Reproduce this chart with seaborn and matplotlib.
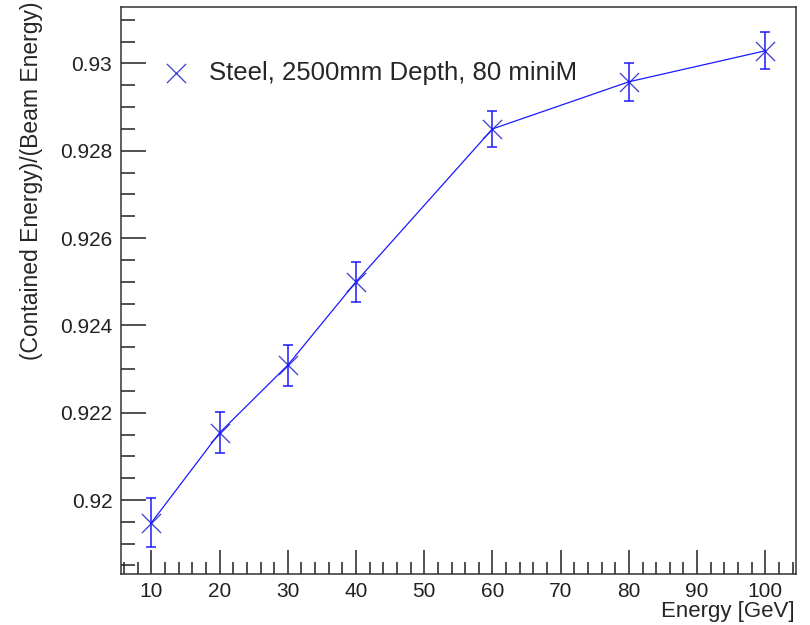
import matplotlib
matplotlib.use("Agg")
import matplotlib.pyplot as plt
from matplotlib.ticker import MultipleLocator
import seaborn as sns
import pandas as pd

# the data
energy = [10, 20, 30, 40, 60, 80, 100]
ratio = [0.91948, 0.92154, 0.92309, 0.92500, 0.92850, 0.92958, 0.93029]
ratio_err = [0.00056, 0.00047, 0.00047, 0.00046, 0.00041, 0.00044, 0.00042]
x_ticks = [10, 20, 30, 40, 50, 60, 70, 80, 90, 100]
y_ticks = [0.920, 0.922, 0.924, 0.926, 0.928, 0.930]
y_tick_labels = ["0.92", "0.922", "0.924", "0.926", "0.928", "0.93"]
legend_label = "Steel, 2500mm Depth, 80 miniM"

df = pd.DataFrame({"energy": energy, "ratio": ratio, "err": ratio_err})

sns.set_style("ticks")
plt.rcParams["font.family"] = ["Liberation Sans", "DejaVu Sans"]

fig = plt.figure(figsize=(8.1, 6.25), dpi=100)
ax = fig.add_axes([0.149, 0.0816, 0.8337, 0.9077])

blue = "#1a1aff"

# connecting line
sns.lineplot(data=df, x="energy", y="ratio", ax=ax, color=blue,
             linewidth=0.9, sort=True, legend=False, errorbar=None)

# error bars
ax.errorbar(df["energy"], df["ratio"], yerr=df["err"], fmt="none",
            ecolor=blue, elinewidth=1.1, capsize=3.5, capthick=1.1)

# markers (X), these also give the legend entry
sns.scatterplot(data=df, x="energy", y="ratio", ax=ax, marker="x",
                s=190, color="#3a3ad0", linewidth=0.9, label=legend_label)

ax.set_xlim(5.5, 104.5)
ax.set_ylim(0.918305, 0.93130)

ax.set_xticks(x_ticks)
ax.xaxis.set_minor_locator(MultipleLocator(2))
ax.set_yticks(y_ticks)
ax.set_yticklabels(y_tick_labels)
ax.yaxis.set_minor_locator(MultipleLocator(0.0005))

ax.tick_params(axis="both", which="both", direction="in", top=False,
               right=False, colors="#222222", labelsize=15)
ax.tick_params(axis="y", which="major", length=18, width=1.1, pad=6)
ax.tick_params(axis="y", which="minor", length=10, width=1.1)
ax.tick_params(axis="x", which="major", length=17, width=1.1, pad=6)
ax.tick_params(axis="x", which="minor", length=9, width=1.1)
for s in ax.spines.values():
    s.set_color("#333333")
    s.set_linewidth(1.1)

ax.set_xlabel("")
ax.set_ylabel("")
fig.text(0.9815, 0.004, "Energy [GeV]", ha="right", va="bottom", fontsize=16)
fig.text(0.0383, 0.997, "(Contained Energy)/(Beam Energy)", rotation=90,
         ha="center", va="top", fontsize=16.5)

leg = ax.legend(loc="center left", bbox_to_anchor=(0.0286, 0.883), frameon=False,
                fontsize=18.5, handletextpad=0.3, markerscale=1.0,
                borderaxespad=0)

fig.savefig("out.png", dpi=100)
